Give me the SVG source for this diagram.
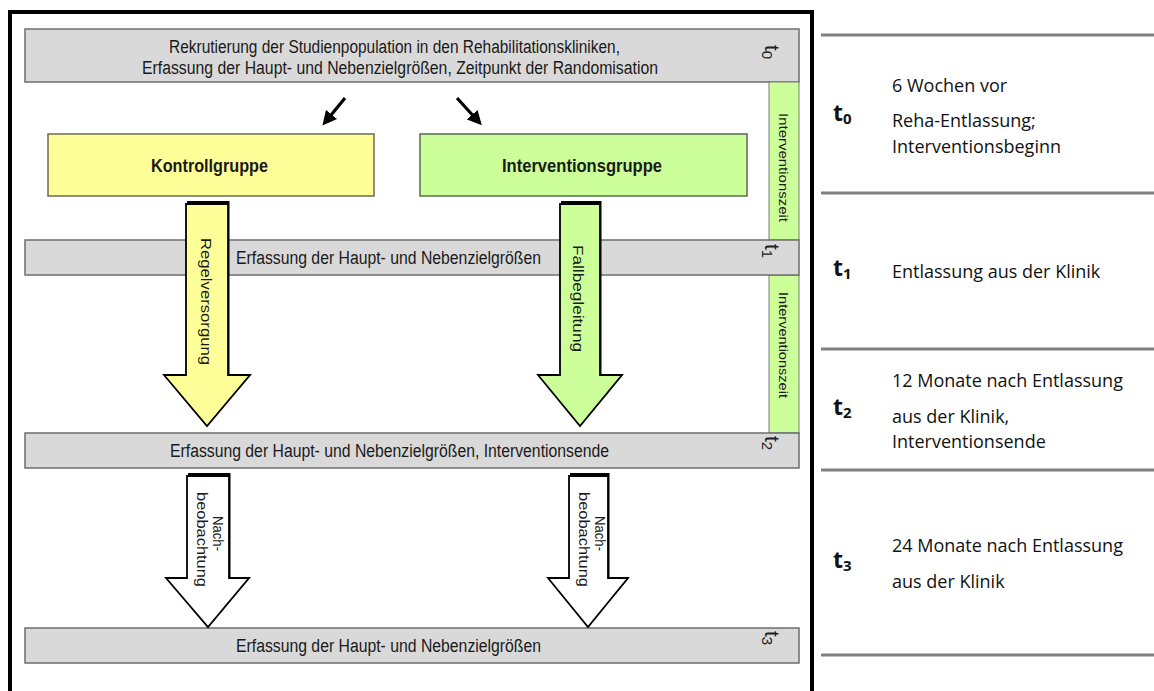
<svg xmlns="http://www.w3.org/2000/svg" width="1154" height="691" viewBox="0 0 1154 691">
<style>
.bar{fill:#d9d9d9;stroke:#6e6e6e;stroke-width:1.5}
.green{fill:#ccff99;stroke:#7a7a7a;stroke-width:1}
.lbl{font-family:"Liberation Sans",Arial,sans-serif;font-size:18px;fill:#1a1a1a}
.grp{font-family:"Liberation Sans",Arial,sans-serif;font-size:18px;font-weight:bold;fill:#1a1a1a}
.rot{font-family:"Liberation Sans",Arial,sans-serif;font-size:15px;fill:#1a1a1a}
.iz{font-family:"Liberation Sans",Arial,sans-serif;font-size:13px;fill:#1a1a1a}
.tt{font-family:"Liberation Sans",Arial,sans-serif;font-size:21px;fill:#222}
.tb{font-family:"Open Sans","Liberation Sans",sans-serif;font-size:18px;fill:#111}
.tk{font-family:"Open Sans","Liberation Sans",sans-serif;font-size:23px;font-weight:bold;fill:#111}
.sep{stroke:#808080;stroke-width:3}
.shadow{fill:#000}
.arr{stroke:#000;stroke-width:1.8;stroke-linejoin:miter}
</style>
<defs>
<marker id="ah" viewBox="0 0 10 10" refX="5" refY="5" markerWidth="4.5" markerHeight="4.5" orient="auto" markerUnits="strokeWidth">
<path d="M0,0 L10,5 L0,10 z" fill="#000"/>
</marker>
</defs>
<rect width="1154" height="691" fill="#fff"/>
<rect id="frame" x="10" y="12" width="802" height="700" fill="none" stroke="#000" stroke-width="4"/>

<g id="bar-t0">
<rect class="bar" x="25" y="29" width="774" height="53"/>
<text class="lbl" x="169" y="53" textLength="451" lengthAdjust="spacingAndGlyphs">Rekrutierung der Studienpopulation in den Rehabilitationskliniken,</text>
<text class="lbl" x="142" y="74" textLength="516" lengthAdjust="spacingAndGlyphs">Erfassung der Haupt- und Nebenzielgrößen, Zeitpunkt der Randomisation</text>
<text class="tt" transform="translate(765,45) rotate(90)">t<tspan font-size="15" dy="3">0</tspan></text>
</g>

<g id="iz1">
<rect class="green" x="769" y="82" width="30" height="158"/>
<text class="iz" transform="translate(779,113) rotate(90)" textLength="109" lengthAdjust="spacingAndGlyphs">Interventionszeit</text>
</g>
<g id="iz2">
<rect class="green" x="769" y="275" width="30" height="158"/>
<text class="iz" transform="translate(779,292) rotate(90)" textLength="106" lengthAdjust="spacingAndGlyphs">Interventionszeit</text>
</g>

<g id="kontroll">
<rect x="48" y="134" width="326" height="62" fill="#ffff99" stroke="#6b6b50" stroke-width="1.5"/>
<text class="grp" x="151" y="172" textLength="117" lengthAdjust="spacingAndGlyphs">Kontrollgruppe</text>
</g>
<g id="intervention">
<rect x="420" y="134" width="327" height="62" fill="#ccff99" stroke="#5a6b50" stroke-width="1.5"/>
<text class="grp" x="502" y="172" textLength="160" lengthAdjust="spacingAndGlyphs">Interventionsgruppe</text>
</g>

<g id="bar-t1">
<rect class="bar" x="25" y="240" width="774" height="35"/>
<text class="lbl" x="236" y="264" textLength="305" lengthAdjust="spacingAndGlyphs">Erfassung der Haupt- und Nebenzielgrößen</text>
<text class="tt" transform="translate(765,244) rotate(90)">t<tspan font-size="15" dy="3">1</tspan></text>
</g>

<g id="bar-t2">
<rect class="bar" x="25" y="433" width="774" height="35"/>
<text class="lbl" x="170" y="457" textLength="439" lengthAdjust="spacingAndGlyphs">Erfassung der Haupt- und Nebenzielgrößen, Interventionsende</text>
<text class="tt" transform="translate(765,436) rotate(90)">t<tspan font-size="15" dy="3">2</tspan></text>
</g>

<g id="bar-t3">
<rect class="bar" x="25" y="628" width="774" height="35"/>
<text class="lbl" x="236" y="652" textLength="305" lengthAdjust="spacingAndGlyphs">Erfassung der Haupt- und Nebenzielgrößen</text>
<text class="tt" transform="translate(765,631) rotate(90)">t<tspan font-size="15" dy="3">3</tspan></text>
</g>

<g id="connectors">
<line x1="345" y1="98" x2="327" y2="120" stroke="#000" stroke-width="3.2" marker-end="url(#ah)"/>
<line x1="457" y1="98" x2="477" y2="120" stroke="#000" stroke-width="3.2" marker-end="url(#ah)"/>

<g id="arrow-regel">
<polygon class="shadow" points="187,201 229.5,201 229.5,375 251,375 208,425 165,375 187,375"/>
<polygon class="arr" fill="#ffff99" points="186,204 228,204 228,375 250,375 207,426 164,375 186,375"/>
<text class="rot" transform="translate(201,238) rotate(90)" textLength="127" lengthAdjust="spacingAndGlyphs">Regelversorgung</text>
</g>
<g id="arrow-fall">
<polygon class="shadow" points="561,201 601.5,201 601.5,375 623,375 581,425 539,375 561,375"/>
<polygon class="arr" fill="#ccff99" points="560,204 600,204 600,375 622,375 580,426 538,375 560,375"/>
<text class="rot" transform="translate(573,245) rotate(90)" textLength="107" lengthAdjust="spacingAndGlyphs">Fallbegleitung</text>
</g>
<g id="arrow-nach1">
<polygon class="shadow" points="188,473 230.5,473 230.5,578 250,578 209,626 167,578 188,578"/>
<polygon class="arr" fill="#fff" points="187,476 229,476 229,578 249,578 208,627 166,578 187,578"/>
<text class="rot" transform="translate(213,516) rotate(90)" textLength="35" lengthAdjust="spacingAndGlyphs">Nach-</text>
<text class="rot" transform="translate(197,492) rotate(90)" textLength="95" lengthAdjust="spacingAndGlyphs">beobachtung</text>
</g>
<g id="arrow-nach2">
<polygon class="shadow" points="570,473 609.5,473 609.5,578 629,578 589,626 549,578 570,578"/>
<polygon class="arr" fill="#fff" points="569,476 608,476 608,578 628,578 588,627 548,578 569,578"/>
<text class="rot" transform="translate(595,516) rotate(90)" textLength="35" lengthAdjust="spacingAndGlyphs">Nach-</text>
<text class="rot" transform="translate(579,492) rotate(90)" textLength="95" lengthAdjust="spacingAndGlyphs">beobachtung</text>
</g>
</g>

<g id="legend">
<line class="sep" x1="821" y1="35" x2="1154" y2="35"/>
<line class="sep" x1="821" y1="193" x2="1154" y2="193"/>
<line class="sep" x1="821" y1="349" x2="1154" y2="349"/>
<line class="sep" x1="821" y1="470" x2="1154" y2="470"/>
<line class="sep" x1="821" y1="655" x2="1154" y2="655"/>
<g id="legend-t0">
<text class="tk" x="833" y="121">t<tspan font-size="15" dy="3">0</tspan></text>
<text class="tb" x="892" y="92">6 Wochen vor</text>
<text class="tb" x="892" y="127">Reha-Entlassung;</text>
<text class="tb" x="892" y="153">Interventionsbeginn</text>
</g>
<g id="legend-t1">
<text class="tk" x="833" y="276">t<tspan font-size="15" dy="3">1</tspan></text>
<text class="tb" x="892" y="278">Entlassung aus der Klinik</text>
</g>
<g id="legend-t2">
<text class="tk" x="833" y="415">t<tspan font-size="15" dy="3">2</tspan></text>
<text class="tb" x="892" y="387">12 Monate nach Entlassung</text>
<text class="tb" x="892" y="423">aus der Klinik,</text>
<text class="tb" x="892" y="448">Interventionsende</text>
</g>
<g id="legend-t3">
<text class="tk" x="833" y="568">t<tspan font-size="15" dy="3">3</tspan></text>
<text class="tb" x="892" y="552">24 Monate nach Entlassung</text>
<text class="tb" x="892" y="588">aus der Klinik</text>
</g>
</g>
</svg>
